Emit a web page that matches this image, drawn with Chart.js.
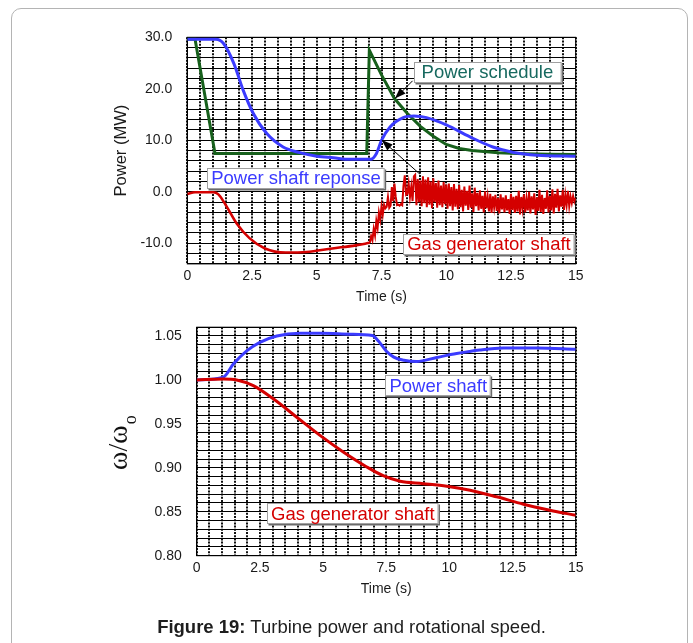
<!DOCTYPE html>
<html>
<head>
<meta charset="utf-8">
<script src="https://cdn.jsdelivr.net/npm/chart.js@4.4.1/dist/chart.umd.min.js"></script>
<style>
  html, body { margin: 0; padding: 0; background: #fff; }
  body { width: 693px; height: 643px; position: relative; overflow: hidden;
         font-family: "Liberation Sans", Arial, sans-serif; }
  .frame { position: absolute; left: 11px; top: 8px; width: 677px; height: 720px;
           border: 1.5px solid #b4b4b4; border-radius: 10px; box-sizing: border-box; }
  canvas { position: absolute; left: 0; }
  #powerChart { top: 0; }
  #speedChart { top: 300px; }
  .caption { position: absolute; left: 5px; top: 616px; width: 693px; text-align: center;
             font-size: 18.5px; line-height: 22px; color: #1e1e1e; }
</style>
</head>
<body>
<div class="frame"></div>
<canvas id="powerChart" width="693" height="310"></canvas>
<canvas id="speedChart" width="693" height="310"></canvas>
<div class="caption"><b>Figure 19:</b> Turbine power and rotational speed.</div>

<script>
// ---- power (MW) against time (s) ----
const schedT = [0, 0.3, 1.07, 6.93, 7.03, 7.5, 8.0, 8.5, 9.0, 9.5, 10.0, 10.5, 11.0, 12.0, 13.0, 14.0, 15.0];
const schedP = [29.6, 29.6, 7.45, 7.45, 27.5, 22.7, 18.1, 15.2, 12.7, 10.8, 9.2, 8.4, 8.0, 7.6, 7.4, 7.3, 7.25];

const shaftT = [0, 1.1, 1.4, 1.8, 2.16, 2.55, 3.07, 3.7, 4.35, 5.0, 5.64, 6.28, 7.08, 7.3, 7.5, 7.83, 8.34, 8.75, 9.24, 10.0, 10.9, 11.8, 12.6, 13.5, 15.0];
const shaftP = [29.6, 29.6, 28.8, 24.9, 19.7, 15.2, 11.3, 8.7, 7.6, 6.9, 6.6, 6.3, 6.3, 7.4, 10.0, 12.6, 14.4, 14.7, 14.4, 13.0, 10.7, 8.7, 7.65, 7.1, 6.9];

const gasT = [0, 0.3, 1.0, 1.2, 1.5, 1.9, 2.4, 3.0, 3.8, 4.6, 5.6, 6.5, 7.05];
const gasP = [-0.4, -0.1, -0.1, -0.5, -2.7, -6.1, -9.0, -11.0, -11.8, -11.7, -11.0, -10.4, -9.9];

const gasRiseT = [7.05, 7.1, 7.15, 7.2, 7.25, 7.3, 7.35, 7.4, 7.45, 7.5, 7.55, 7.6, 7.65, 7.7, 7.75, 7.8, 7.85, 7.9, 7.95, 8.0];
const gasRiseP = [-9.9, -8.6, -9.4, -7.2, -8.5, -5.6, -7.0, -4.0, -5.4, -2.8, -4.4, -2.5, -3.2, -2.9, -1.0, -3.1, -2.7, 0.9, -1.8, 1.6];

// sampled every 0.05 s from 8.05 s
const gasNoiseStart = 8.05, gasNoiseStep = 0.05;
const gasNoiseP = [
  -1.0, -2.6, -2.5, -2.7, -2.4, -2.6, 1.2, 3.2, -0.6, -0.4,
  1.6, -1.0, 1.0, -1.8, 3.0, 3.3, -2.6, 2.5, -2.0, 2.2,
  -2.8, 3.0, -2.2, 2.4, -3.0, 2.8, -2.5, 2.0, -3.2, 2.6,
  -2.0, 1.7, -3.1, 2.2, -2.6, 1.2, -3.0, 1.9, -2.4, 1.4,
  -3.3, 1.6, -2.8, 0.9, -3.6, 1.5, -2.9, 0.6, -3.4, 1.3,
  -3.0, 0.4, -3.8, 1.0, -2.7, 0.2, -3.5, 1.2, -3.1, -0.3,
  -3.9, 0.8, -2.8, -0.2, -3.6, 0.3, -3.3, -0.8, -4.0, 0.1,
  -3.2, -1.0, -3.8, -0.4, -4.1, -0.9, -3.0, -0.6, -3.7, -1.2,
  -4.2, -0.5, -3.4, -1.1, -4.0, -0.7, -3.6, -1.4, -4.3, -0.4,
  -3.5, -1.0, -4.1, -0.8, -3.8, 0.2, -4.4, -1.0, -3.2, -0.5,
  -4.0, -1.3, -3.6, 0.0, -4.2, -0.9, -3.4, -0.3, -4.5, -1.1,
  -3.7, 0.4, -3.9, -0.6, -4.3, -1.2, -3.3, 0.3, -4.0, -0.8,
  -3.6, 0.5, -4.2, -0.4, -3.1, 0.6, -3.8, -0.7, -2.9, 0.4,
  -3.5, -0.6, -2.6, 0.2, -2.8, -0.9, -2.2, -0.8, -1.9, -1.2
];

// ---- normalised shaft speed ----
const spdShaftT = [0, 1.05, 1.45, 1.98, 2.5, 3.17, 4.09, 5.0, 6.07, 6.95, 7.2, 7.5, 7.8, 8.2, 8.7, 9.5, 10.29, 11.2, 12.13, 13.45, 15.0];
const spdShaftV = [1.000, 1.003, 1.018, 1.033, 1.0427, 1.050, 1.053, 1.053, 1.052, 1.0505, 1.044, 1.033, 1.026, 1.0225, 1.021, 1.0256, 1.030, 1.034, 1.0363, 1.0363, 1.035];

const spdGasT = [0, 1.05, 1.58, 2.24, 3.03, 3.96, 4.88, 5.8, 6.73, 7.38, 8.05, 8.97, 9.9, 10.82, 11.87, 12.93, 13.98, 15.0];
const spdGasV = [1.000, 1.001, 1.000, 0.9935, 0.9785, 0.9576, 0.9369, 0.918, 0.901, 0.891, 0.8847, 0.882, 0.879, 0.8745, 0.867, 0.8586, 0.8518, 0.846];

// labelled tick values
const timeTicks = [0, 2.5, 5, 7.5, 10, 12.5, 15];
const powerTicks = [-10, 0, 10, 20, 30];
const speedTicks = [0.80, 0.85, 0.90, 0.95, 1.00, 1.05];

const BLUE = '#3b3bff', GREEN = '#17601c', RED = '#d40000', TEAL = '#17695f';
const FONT = '"Liberation Sans", Arial, sans-serif';

const pairs = (t, v) => t.map((x, i) => ({ x, y: v[i] }));
const noisePts = gasNoiseP.map((y, i) => ({ x: +(gasNoiseStart + i * gasNoiseStep).toFixed(2), y }));
const pick = (list, digits) => v => list.some(k => Math.abs(k - v) < 1e-6) ? v.toFixed(digits) : '';
const pickTime = v => timeTicks.some(k => Math.abs(k - v) < 1e-6) ? String(v) : '';

// black frame around the plotting area
const frame = {
  id: 'frame',
  beforeDatasetsDraw(chart) {
    const { ctx, chartArea: a } = chart;
    ctx.save();
    ctx.strokeStyle = '#000';
    ctx.lineWidth = 1;
    ctx.strokeRect(a.left, a.top, a.right - a.left, a.bottom - a.top);
    ctx.restore();
  }
};

function arrow(ctx, x1, y1, x2, y2) {
  ctx.strokeStyle = '#000';
  ctx.fillStyle = '#000';
  ctx.lineWidth = 1;
  ctx.beginPath(); ctx.moveTo(x1, y1); ctx.lineTo(x2, y2); ctx.stroke();
  const a = Math.atan2(y2 - y1, x2 - x1), len = 11, half = 4;
  const bx = x2 - len * Math.cos(a), by = y2 - len * Math.sin(a);
  ctx.beginPath();
  ctx.moveTo(x2, y2);
  ctx.lineTo(bx + half * Math.sin(a), by - half * Math.cos(a));
  ctx.lineTo(bx - half * Math.sin(a), by + half * Math.cos(a));
  ctx.closePath(); ctx.fill();
}

// boxed curve names and pointer arrows, placed in data units
function notes(boxes, arrows) {
  return {
    id: 'notes',
    afterDatasetsDraw(chart) {
      const { ctx, scales: { x, y } } = chart;
      ctx.save();
      arrows.forEach(([t1, v1, t2, v2]) =>
        arrow(ctx, x.getPixelForValue(t1), y.getPixelForValue(v1), x.getPixelForValue(t2), y.getPixelForValue(v2)));
      ctx.font = '18.5px ' + FONT;
      boxes.forEach(b => {
        const cx = x.getPixelForValue(b.t), cy = y.getPixelForValue(b.v);
        const w = ctx.measureText(b.text).width + (b.pad || 8), h = 21;
        const bx = Math.round(cx - w / 2), by = Math.round(cy - h / 2);
        ctx.fillStyle = '#6a6a6a';
        ctx.fillRect(bx + 1.5, by + 1.5, w, h);
        ctx.fillStyle = '#fff';
        ctx.fillRect(bx, by, w, h);
        ctx.strokeStyle = '#a0a0a0';
        ctx.lineWidth = 1;
        ctx.strokeRect(bx + 0.5, by + 0.5, w - 1, h - 1);
        ctx.fillStyle = b.color;
        ctx.textAlign = 'center';
        ctx.textBaseline = 'middle';
        ctx.fillText(b.text, cx, cy + 1);
      });
      ctx.restore();
    }
  };
}

function timeAxis(height, padTick, padTitle) {
  return {
    type: 'linear', min: 0, max: 15,
    afterFit: s => { s.height = height; },
    ticks: { stepSize: 0.5, autoSkip: false, maxRotation: 0, padding: padTick,
             color: '#1a1a1a', font: { family: FONT, size: 14 }, callback: pickTime },
    grid: { color: '#111', lineWidth: 2, drawTicks: false },
    border: { color: '#000', width: 1, dash: [2, 1.2] },
    title: { display: true, text: 'Time (s)', color: '#1a1a1a', font: { family: FONT, size: 14 },
             padding: { top: 0, bottom: padTitle } }
  };
}

const line = (data, color, width, smooth) => ({
  data, borderColor: color, borderWidth: width, pointRadius: 0,
  tension: 0, cubicInterpolationMode: smooth ? 'monotone' : 'default', fill: false
});

new Chart(document.getElementById('powerChart'), {
  type: 'line',
  data: {
    datasets: [
      line(pairs(gasT, gasP), RED, 2.6, true),
      line(pairs(gasRiseT, gasRiseP).concat(noisePts), RED, 2, false),
      line(pairs(shaftT, shaftP), BLUE, 3, true),
      line(pairs(schedT, schedP), GREEN, 3, false)
    ]
  },
  options: {
    responsive: false, animation: false, parsing: false,
    layout: { padding: { left: 108, right: 117.3, top: 37.3, bottom: 0 } },
    plugins: { legend: { display: false }, tooltip: { enabled: false } },
    scales: {
      x: timeAxis(46.1, 4, 4.6),
      y: {
        type: 'linear', min: -14, max: 30,
        afterFit: s => { s.width = 187.3 - 108; },
        ticks: { stepSize: 2, autoSkip: false, padding: 15, color: '#1a1a1a',
                 font: { family: FONT, size: 14 }, callback: pick(powerTicks, 1) },
        grid: { color: '#000', lineWidth: 1, drawTicks: false },
        border: { color: '#000', width: 1 },
        title: { display: true, text: 'Power (MW)', color: '#1a1a1a',
                 font: { family: FONT, size: 16.5 }, padding: { top: 4, bottom: 0 } }
      }
    }
  },
  plugins: [frame, notes(
    [
      { text: 'Power schedule', t: 11.59, v: 23.24, color: TEAL, pad: 16 },
      { text: 'Power shaft reponse', t: 4.20, v: 2.66, color: BLUE },
      { text: 'Gas generator shaft', t: 11.65, v: -10.16, color: RED }
    ],
    [
      [8.70, 21.55, 8.02, 18.1],
      [8.98, 3.44, 7.51, 10.04]
    ]
  )]
});

// rotated ω/ωo axis name with a subscript
const speedTitle = {
  id: 'speedTitle',
  afterDraw(chart) {
    const { ctx } = chart;
    ctx.save();
    ctx.translate(127, 170);
    ctx.rotate(-Math.PI / 2);
    ctx.fillStyle = '#111';
    ctx.textBaseline = 'alphabetic';
    ctx.font = '28px "Liberation Serif", "DejaVu Serif", serif';
    ctx.fillText('ω/ω', 0, 0);
    const w = ctx.measureText('ω/ω').width;
    ctx.font = '18px "Liberation Serif", "DejaVu Serif", serif';
    ctx.fillText('o', w + 1, 9);
    ctx.restore();
  }
};

new Chart(document.getElementById('speedChart'), {
  type: 'line',
  data: {
    datasets: [
      line(pairs(spdGasT, spdGasV), RED, 3, true),
      line(pairs(spdShaftT, spdShaftV), BLUE, 3, true)
    ]
  },
  options: {
    responsive: false, animation: false, parsing: false,
    layout: { padding: { left: 140, right: 117.3, top: 27.2, bottom: 0 } },
    plugins: { legend: { display: false }, tooltip: { enabled: false } },
    scales: {
      x: timeAxis(54.3, 4.2, 12.3),
      y: {
        type: 'linear', min: 0.8, max: 1.06,
        afterFit: s => { s.width = 196.7 - 140; },
        ticks: { stepSize: 0.01, autoSkip: false, padding: 15, color: '#1a1a1a',
                 font: { family: FONT, size: 14 }, callback: pick(speedTicks, 2) },
        grid: { color: '#000', lineWidth: 1, drawTicks: false },
        border: { color: '#000', width: 1 }
      }
    }
  },
  plugins: [frame, speedTitle, notes(
    [
      { text: 'Power shaft', t: 9.56, v: 0.9935, color: BLUE },
      { text: 'Gas generator shaft', t: 6.18, v: 0.8476, color: RED }
    ],
    []
  )]
});
</script>
</body>
</html>
